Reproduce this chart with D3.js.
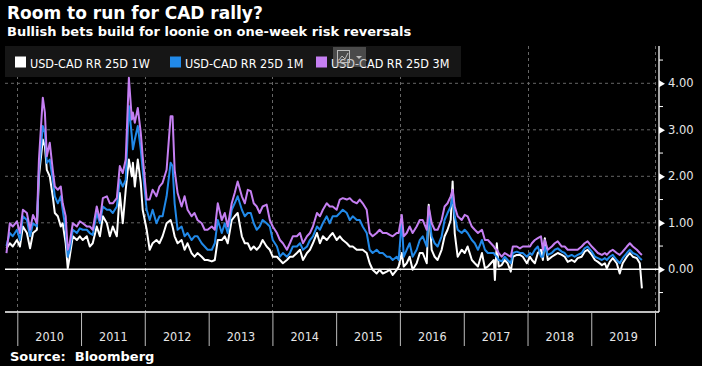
<!DOCTYPE html>
<html><head><meta charset="utf-8">
<script src="https://cdn.jsdelivr.net/npm/d3@7"></script>
<style>
html,body{margin:0;padding:0;background:#000;}
svg{display:block;}
</style></head>
<body>
<svg id="chart" width="702" height="366"></svg>
<script>
const dates = [
"2009-10-31","2009-11-19","2009-12-06","2009-12-30","2010-01-16","2010-02-02","2010-02-25","2010-03-15","2010-04-01","2010-04-23",
"2010-05-05","2010-05-27","2010-06-08","2010-06-19","2010-07-06","2010-07-23","2010-08-04","2010-08-21","2010-09-07","2010-09-18",
"2010-10-05","2010-10-17","2010-10-28","2010-11-15","2010-12-08","2010-12-25","2011-01-11","2011-02-03","2011-02-20","2011-03-09",
"2011-04-01","2011-04-19","2011-05-06","2011-05-29","2011-06-15","2011-07-02","2011-07-25","2011-08-11","2011-08-28","2011-09-14",
"2011-10-02","2011-10-19","2011-10-25","2011-11-05","2011-11-22","2011-12-09","2011-12-20","2012-01-12","2012-01-29","2012-02-15",
"2012-03-08","2012-03-25","2012-04-12","2012-05-05","2012-05-28","2012-06-08","2012-06-20","2012-07-07","2012-07-30","2012-08-16",
"2012-09-02","2012-09-25","2012-10-12","2012-10-29","2012-11-22","2012-12-09","2012-12-26","2013-01-19","2013-02-05","2013-02-22",
"2013-03-17","2013-04-03","2013-04-20","2013-05-13","2013-05-30","2013-06-16","2013-07-10","2013-07-27","2013-08-13","2013-08-30",
"2013-09-16","2013-10-03","2013-10-20","2013-11-06","2013-11-29","2013-12-17","2014-01-03","2014-01-27","2014-02-13","2014-03-02",
"2014-03-25","2014-04-11","2014-04-28","2014-05-21","2014-06-08","2014-06-25","2014-07-18","2014-08-04","2014-08-21","2014-09-13",
"2014-09-30","2014-10-17","2014-11-08","2014-11-25","2014-12-12","2015-01-04","2015-01-22","2015-02-08","2015-03-03","2015-03-20",
"2015-04-06","2015-04-29","2015-05-16","2015-06-02","2015-06-25","2015-07-12","2015-07-29","2015-08-21","2015-09-07","2015-09-25",
"2015-10-18","2015-11-04","2015-11-21","2015-12-14","2015-12-25","2016-01-12","2016-01-23","2016-02-09","2016-02-26","2016-03-14",
"2016-04-06","2016-04-24","2016-05-11","2016-06-03","2016-06-14","2016-07-01","2016-07-18","2016-08-04","2016-08-27","2016-09-13",
"2016-09-30","2016-10-18","2016-10-29","2016-11-10","2016-11-27","2016-12-20","2017-01-06","2017-01-23","2017-02-16","2017-03-05",
"2017-03-23","2017-04-15","2017-05-02","2017-05-19","2017-06-05","2017-06-22","2017-06-28","2017-07-09","2017-07-20","2017-08-06",
"2017-08-23","2017-09-09","2017-09-27","2017-10-09","2017-11-01","2017-11-18","2017-12-05","2017-12-28","2018-01-15","2018-01-26",
"2018-02-12","2018-03-01","2018-03-19","2018-03-30","2018-04-10","2018-04-27","2018-05-20","2018-06-06","2018-06-23","2018-07-16",
"2018-08-02","2018-08-19","2018-09-11","2018-09-28","2018-10-15","2018-11-07","2018-11-24","2018-12-11","2019-01-04","2019-01-22",
"2019-02-08","2019-03-03","2019-03-20","2019-03-31","2019-04-17","2019-05-04","2019-05-27","2019-06-13","2019-06-30","2019-07-24",
"2019-08-10","2019-08-27","2019-09-19","2019-10-06","2019-10-18"
];
const rr3M = [
0.35,0.99,0.92,1.03,0.78,1.28,1.21,0.85,1.17,0.99,
2.36,3.69,3.37,2.43,2.72,2.14,1.78,1.71,1.78,1.42,
1.14,0.42,0.56,0.99,0.92,1.03,0.99,0.92,0.92,0.85,
1.35,1.06,1.53,1.57,1.42,1.42,1.53,2.22,2.07,2.36,
4.12,3.22,3.37,3.15,3.47,2.94,2.43,1.50,1.50,1.71,
1.57,1.78,1.86,2.14,3.29,3.29,2.14,1.64,1.35,1.57,
1.28,1.14,1.21,1.06,0.99,0.85,0.85,0.92,0.85,1.42,
1.06,1.21,0.92,1.42,1.64,1.89,1.57,1.42,1.71,1.68,
1.42,1.35,1.21,1.35,1.39,1.06,0.92,0.78,0.63,0.56,
0.42,0.56,0.71,0.71,0.78,0.56,0.71,0.78,0.92,1.21,
1.14,1.28,1.42,1.35,1.35,1.28,1.50,1.53,1.50,1.53,
1.46,1.42,1.50,1.42,1.28,0.78,0.71,0.78,0.85,0.78,
0.78,0.74,0.71,0.78,0.78,1.17,0.71,0.78,0.92,0.78,
0.92,1.06,1.06,0.85,1.35,0.99,0.85,0.85,1.06,1.35,
1.42,1.57,1.71,1.35,1.14,1.06,1.17,1.14,0.92,0.85,
0.78,0.85,0.63,0.63,0.56,0.49,0.45,0.42,0.35,0.27,
0.35,0.31,0.27,0.49,0.49,0.45,0.49,0.49,0.49,0.56,
0.63,0.67,0.71,0.42,0.63,0.42,0.49,0.56,0.60,0.49,
0.49,0.42,0.42,0.42,0.42,0.49,0.56,0.60,0.49,0.42,
0.35,0.31,0.35,0.31,0.38,0.42,0.35,0.31,0.38,0.49,
0.56,0.49,0.42,0.35,0.31
];
const rr1M = [
0.50,0.78,0.71,0.85,0.63,1.14,1.06,0.71,0.99,0.92,
2.14,3.08,2.94,2.29,2.36,1.93,1.57,1.42,1.57,1.28,
0.85,0.27,0.42,0.85,0.78,0.88,0.85,0.85,0.78,0.74,
1.21,0.99,1.35,1.28,1.28,1.21,1.35,1.93,1.78,1.93,
3.51,2.86,2.58,2.79,3.08,2.58,2.14,1.28,1.06,1.28,
0.99,1.14,1.14,1.57,2.29,2.22,1.42,0.85,0.92,0.71,
0.78,0.63,0.71,0.71,0.56,0.49,0.42,0.42,0.56,1.06,
0.78,0.99,0.78,1.28,1.42,1.57,1.28,1.14,1.21,1.21,
0.99,0.85,0.92,1.06,0.99,0.92,0.63,0.49,0.27,0.35,
0.27,0.35,0.49,0.49,0.56,0.42,0.49,0.63,0.71,0.92,
0.85,0.99,1.14,0.99,1.14,1.14,1.21,1.28,1.21,1.06,
1.14,1.06,1.06,0.92,0.78,0.42,0.35,0.42,0.35,0.35,
0.27,0.27,0.20,0.27,0.20,1.06,0.27,0.42,0.56,0.27,
0.42,0.63,0.71,0.49,1.21,0.71,0.56,0.49,0.71,1.06,
1.21,1.35,1.57,1.14,0.85,0.78,0.85,0.78,0.63,0.56,
0.42,0.63,0.42,0.35,0.35,0.35,0.31,0.27,0.20,0.17,
0.27,0.20,0.13,0.35,0.38,0.35,0.35,0.27,0.35,0.31,
0.42,0.49,0.27,0.27,0.49,0.31,0.35,0.42,0.45,0.38,
0.35,0.27,0.31,0.27,0.31,0.35,0.45,0.49,0.38,0.27,
0.24,0.20,0.24,0.20,0.27,0.31,0.20,0.13,0.24,0.35,
0.42,0.35,0.31,0.24,0.20
];
const rr1W = [
0.45,0.56,0.49,0.63,0.49,0.92,0.78,0.45,0.78,0.85,
2.00,2.79,2.65,2.14,2.00,1.57,1.21,1.14,0.92,0.99,
0.56,0.02,0.27,0.71,0.63,0.71,0.63,0.71,0.49,0.56,
0.92,0.71,1.14,0.99,0.71,0.92,0.71,1.64,0.99,1.71,
2.36,2.00,2.29,1.78,2.36,1.86,1.28,0.85,0.42,0.56,
0.63,0.56,0.71,0.99,1.06,0.92,0.71,0.56,0.63,0.42,
0.56,0.35,0.27,0.35,0.27,0.20,0.20,0.17,0.20,0.63,
0.63,0.71,0.56,1.06,1.14,1.21,0.71,0.56,0.56,0.42,
0.49,0.42,0.49,0.63,0.49,0.42,0.27,0.27,0.20,0.13,
0.20,0.27,0.27,0.35,0.42,0.20,0.35,0.42,0.56,0.78,
0.56,0.71,0.63,0.71,0.78,0.63,0.71,0.63,0.56,0.49,
0.49,0.42,0.42,0.42,0.35,0.13,-0.01,-0.09,-0.01,-0.09,
-0.05,-0.01,-0.12,-0.01,0.06,0.35,0.06,0.13,0.27,-0.01,
0.13,0.35,0.35,0.13,1.39,0.42,0.27,0.20,0.42,0.71,
0.85,1.06,1.89,0.78,0.27,0.42,0.35,0.49,0.20,0.13,
0.06,0.35,0.02,0.06,0.13,0.20,-0.23,0.56,0.06,0.09,
0.20,0.13,-0.05,0.27,0.31,0.31,0.27,0.13,0.27,0.20,
0.13,0.35,0.42,0.20,0.67,0.20,0.27,0.31,0.35,0.31,
0.27,0.16,0.20,0.16,0.24,0.27,0.38,0.42,0.31,0.20,
0.16,0.09,0.13,0.02,0.16,0.24,0.13,-0.09,0.13,0.27,
0.35,0.27,0.24,0.13,-0.41
];
const seriesNames = ["USD-CAD RR 25D 1W","USD-CAD RR 25D 1M","USD-CAD RR 25D 3M"];
const seriesColors = ["#ffffff","#2189e8","#c57ff2"];
const yTicks = [0,1,2,3,4];
const yMinorTicks = [-0.5,0.5,1.5,2.5,3.5,4.5];
const gridValues = [1,2,3,4];
const years = [2010,2011,2012,2013,2014,2015,2016,2017,2018,2019];
const title = "Room to run for CAD rally?";
const subtitle = "Bullish bets build for loonie on one-week risk reversals";
const source = "Source:  Bloomberg";

const svg = d3.select("#chart");
svg.append("rect").attr("width",702).attr("height",366).attr("fill","#000");
const parse = d3.timeParse("%Y-%m-%d");
const plotL = 5, plotR = 659, plotT = 46, plotB = 312;
const x = d3.scaleTime().domain([new Date(2010,0,1), new Date(2020,0,1)]).range([17.3, 655]);
const y = d3.scaleLinear().domain([0,4]).range([269.3, 83.3]);

// title
svg.append("text").attr("x",7).attr("y",18.5).text(title)
  .attr("fill","#fff").attr("font-family","DejaVu Sans").attr("font-weight","bold").attr("font-size",17);
svg.append("text").attr("x",7).attr("y",36).text(subtitle)
  .attr("fill","#fff").attr("font-family","DejaVu Sans").attr("font-weight","bold").attr("font-size",13);
svg.append("text").attr("x",10).attr("y",361).text(source).attr("xml:space","preserve")
  .style("white-space","pre")
  .attr("fill","#fff").attr("font-family","DejaVu Sans").attr("font-weight","bold").attr("font-size",13);

// gridlines
const grid = svg.append("g");
grid.selectAll(".hg").data(gridValues).join("line")
  .attr("x1",plotL).attr("x2",plotR).attr("y1",d=>y(d)).attr("y2",d=>y(d))
  .attr("stroke","#666").attr("stroke-dasharray","3,3").attr("stroke-width",1);
const gridYears = [2010,2012,2014,2016,2018,2020];
grid.selectAll(".vg").data(gridYears).join("line")
  .attr("x1",d=>Math.round(x(new Date(d,0,1)))+0.5).attr("x2",d=>Math.round(x(new Date(d,0,1)))+0.5)
  .attr("y1",plotT).attr("y2",plotB)
  .attr("stroke","#666").attr("stroke-dasharray","3,3").attr("stroke-width",1);

// legend box
svg.append("rect").attr("x",5).attr("y",46).attr("width",456).attr("height",31).attr("fill","#161616");
const legX = [15,170,316];
seriesNames.forEach((n,i)=>{
  svg.append("rect").attr("x",legX[i]).attr("y",56.5).attr("width",11).attr("height",11).attr("fill",seriesColors[i]);
  svg.append("text").attr("x",legX[i]+15).attr("y",67.5).text(n)
    .attr("fill","#fff").attr("font-family","DejaVu Sans Condensed, DejaVu Sans").attr("font-stretch","condensed").attr("font-size",12.5);
});

// lines
const clip = svg.append("clipPath").attr("id","clip").append("rect")
  .attr("x",plotL).attr("y",plotT).attr("width",plotR-plotL).attr("height",plotB-plotT);
const seriesVals = [rr1W, rr1M, rr3M];
const line = d3.line().x(d=>x(d.date)).y(d=>y(d.v)).curve(d3.curveLinear);
const lg = svg.append("g").attr("clip-path","url(#clip)");
[0,1,2].forEach(i=>{
  const data = dates.map((d,j)=>({date:parse(d), v:seriesVals[i][j]}));
  lg.append("path").datum(data).attr("d",line).attr("fill","none")
    .attr("stroke",seriesColors[i]).attr("stroke-width",2).attr("stroke-linejoin","round");
});

// zero line
svg.append("line").attr("x1",plotL).attr("x2",plotR).attr("y1",y(0)).attr("y2",y(0))
  .attr("stroke","#fff").attr("stroke-width",1.5);

// icon overlay in legend
const ic = svg.append("g");
ic.append("rect").attr("x",333).attr("y",47).attr("width",33).attr("height",20).attr("fill","#8a8a8a").attr("opacity",0.45);
ic.append("rect").attr("x",337.5).attr("y",50.5).attr("width",12).attr("height",12).attr("fill","none").attr("stroke","#bbb").attr("stroke-width",1);
ic.append("polyline").attr("points","339,60 342,56 345,59 348,53").attr("fill","none").attr("stroke","#bbb").attr("stroke-width",1);
ic.append("path").attr("d","M356,56 L362,56 L359,59 Z").attr("fill","#bbb");

// axes frame
svg.append("line").attr("x1",plotR).attr("x2",plotR).attr("y1",plotT).attr("y2",plotB).attr("stroke","#fff").attr("stroke-width",1.3);
svg.append("line").attr("x1",plotL).attr("x2",plotR).attr("y1",plotB).attr("y2",plotB).attr("stroke","#fff").attr("stroke-width",1.3);

// right axis
const yAxis = d3.axisRight(y).tickValues(yTicks).tickFormat(d3.format(".2f")).tickSize(0).tickPadding(9);
const ya = svg.append("g").attr("transform",`translate(${plotR},0)`).call(yAxis);
ya.select(".domain").remove();
ya.selectAll("text").attr("fill","#e6e6e6").attr("font-family","DejaVu Sans").attr("font-size",11.5);
ya.selectAll(".tick").append("path").attr("d","M0,-3.5 L6,0 L0,3.5 Z").attr("fill","#fff");
svg.append("g").selectAll("line").data(yMinorTicks).join("line")
  .attr("x1",plotR).attr("x2",plotR+4).attr("y1",d=>y(d)).attr("y2",d=>y(d))
  .attr("stroke","#fff").attr("stroke-width",1);

// bottom axis: year ticks
const yearStarts = years.concat([2020]).map(yr=>new Date(yr,0,1));
const xTickAxis = d3.axisBottom(x).tickValues(yearStarts).tickSize(34).tickFormat("");
const xa = svg.append("g").attr("transform",`translate(0,${plotB})`).call(xTickAxis);
xa.select(".domain").remove();
xa.selectAll(".tick line").attr("stroke","#bdbdbd").attr("stroke-width",1);
const xLabelAxis = d3.axisBottom(x).tickValues(years.map(yr=>new Date(yr,6,2))).tickSize(0).tickPadding(0)
  .tickFormat(d3.timeFormat("%Y"));
const xl = svg.append("g").attr("transform",`translate(0,${plotB+20})`).call(xLabelAxis);
xl.select(".domain").remove();
xl.selectAll("text").attr("fill","#e6e6e6").attr("font-family","DejaVu Sans Condensed, DejaVu Sans").attr("font-stretch","condensed").attr("font-size",12.5);
</script>
</body></html>
